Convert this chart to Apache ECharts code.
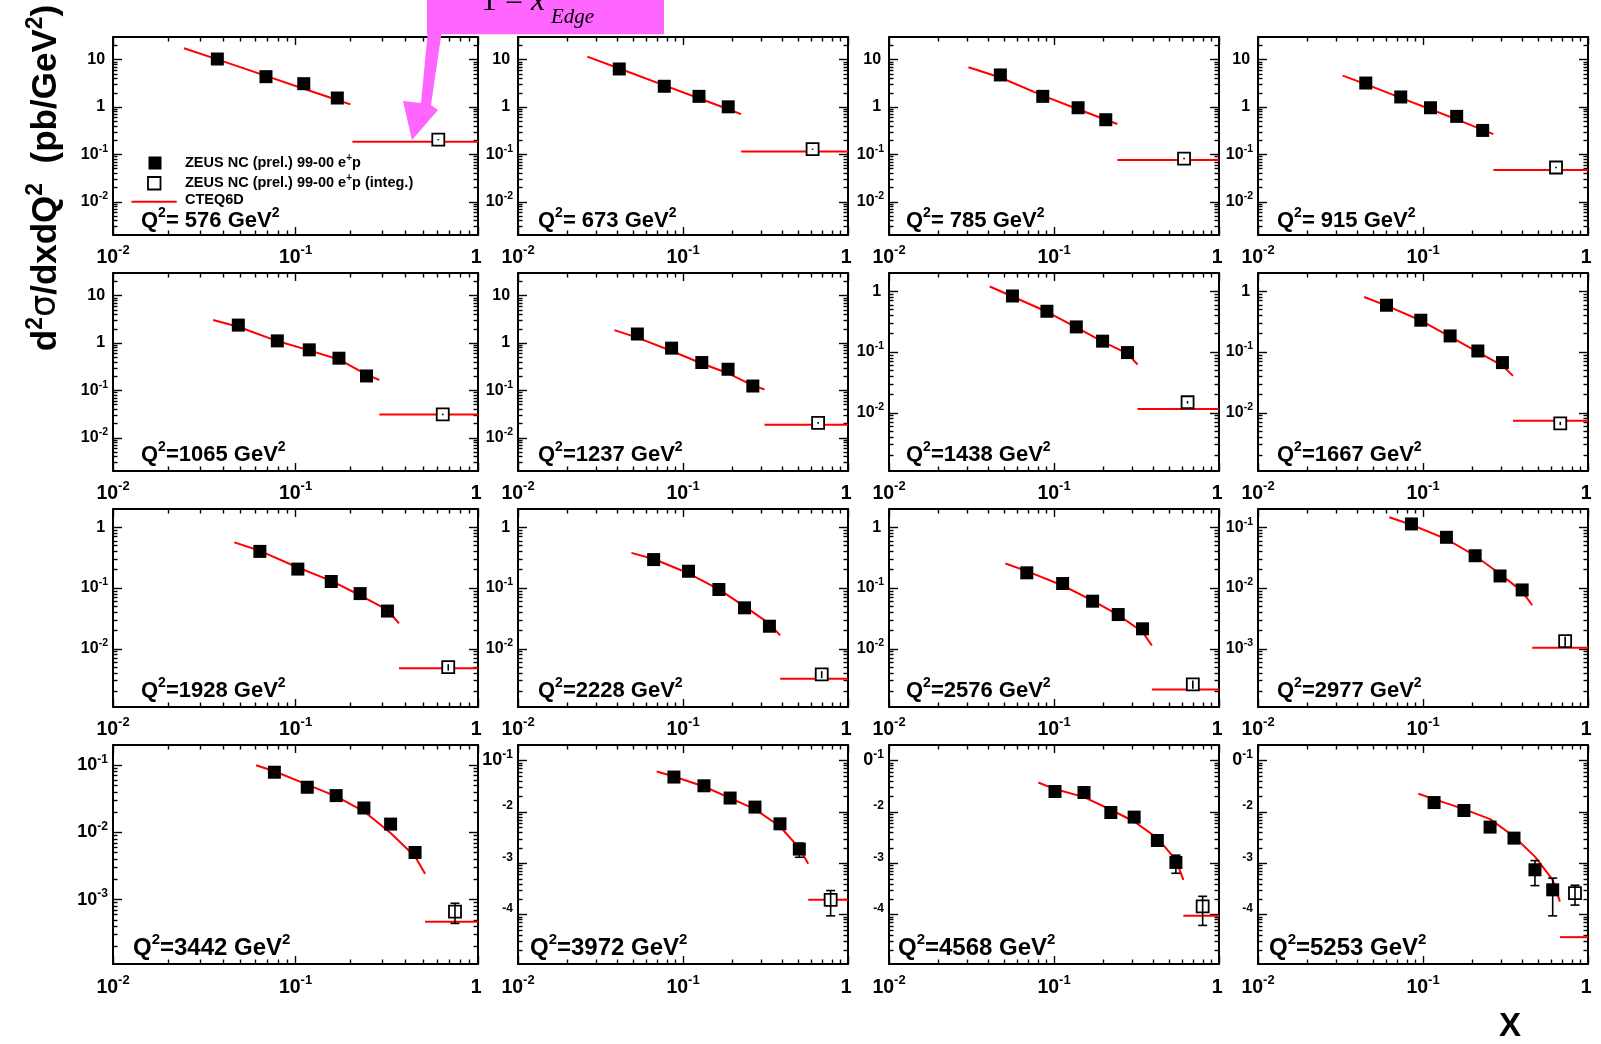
<!DOCTYPE html>
<html><head><meta charset="utf-8">
<script src="https://cdn.jsdelivr.net/npm/echarts@6/dist/echarts.min.js"></script>
<style>html,body{margin:0;padding:0;background:#fff}#c{width:1601px;height:1044px}</style>
</head><body><div id="c"></div>
<script>
// ---------------- data ----------------
const q2List = [576, 673, 785, 915, 1065, 1237, 1438, 1667, 1928, 2228, 2576, 2977, 3442, 3972, 4568, 5253];

const yMinVals = [0.002, 0.002, 0.002, 0.002, 0.002, 0.002, 0.0011, 0.0011, 0.0011, 0.0011, 0.0011, 1.1e-4, 1.1e-4, 1.1e-5, 1.1e-5, 1.1e-5];
const yMaxVals = [30, 30, 30, 30, 30, 30, 2, 2, 2, 2, 2, 0.2, 0.2, 0.2, 0.2, 0.2];

const pointX = [
  [0.0373, 0.0689, 0.111, 0.1695],
  [0.0411, 0.077, 0.125, 0.188],
  [0.0473, 0.0855, 0.140, 0.206],
  [0.045, 0.0733, 0.111, 0.16, 0.23],
  [0.0486, 0.0795, 0.119, 0.173, 0.245],
  [0.0529, 0.0853, 0.13, 0.1875, 0.265],
  [0.056, 0.0906, 0.1365, 0.197, 0.279],
  [0.0601, 0.097, 0.146, 0.215, 0.303],
  [0.0638, 0.103, 0.157, 0.226, 0.319],
  [0.0664, 0.108, 0.165, 0.236, 0.334],
  [0.0684, 0.1128, 0.1714, 0.245, 0.344],
  [0.0851, 0.1387, 0.207, 0.293, 0.399],
  [0.0766, 0.116, 0.167, 0.237, 0.332, 0.452],
  [0.0881, 0.134, 0.193, 0.273, 0.387, 0.507],
  [0.1014, 0.152, 0.221, 0.306, 0.423, 0.548],
  [0.1167, 0.177, 0.255, 0.356, 0.477, 0.611]
];
const pointY = [
  [10.3, 4.37, 3.11, 1.55],
  [6.35, 2.74, 1.68, 1.01],
  [4.75, 1.68, 0.966, 0.54],
  [3.21, 1.63, 0.966, 0.635, 0.321],
  [2.39, 1.11, 0.718, 0.479, 0.202],
  [1.55, 0.78, 0.388, 0.28, 0.124],
  [0.837, 0.469, 0.259, 0.151, 0.098],
  [0.589, 0.334, 0.184, 0.104, 0.067],
  [0.401, 0.205, 0.128, 0.081, 0.0418],
  [0.294, 0.189, 0.0945, 0.0472, 0.0235],
  [0.178, 0.1186, 0.0607, 0.0366, 0.0213],
  [0.1135, 0.0684, 0.034, 0.0158, 0.0093],
  [0.0787, 0.047, 0.0353, 0.0231, 0.0133, 0.00502],
  [0.0476, 0.0322, 0.0186, 0.0124, 0.00586, 0.00189],
  [0.0249, 0.0238, 0.00973, 0.00792, 0.00278, 0.00104],
  [0.0152, 0.01064, 0.00506, 0.00309, 0.000748, 0.000305]
];
const pointErr = [
  [0.3, 0.13, 0.09, 0.05],
  [0.19, 0.08, 0.05, 0.03],
  [0.14, 0.05, 0.03, 0.02],
  [0.1, 0.05, 0.03, 0.02, 0.012],
  [0.07, 0.03, 0.02, 0.015, 0.008],
  [0.05, 0.025, 0.013, 0.01, 0.005],
  [0.025, 0.015, 0.009, 0.006, 0.004],
  [0.02, 0.011, 0.007, 0.004, 0.003],
  [0.013, 0.007, 0.005, 0.003, 0.002],
  [0.01, 0.007, 0.004, 0.002, 0.0012],
  [0.007, 0.005, 0.003, 0.002, 0.0012],
  [0.004, 0.003, 0.0015, 0.0008, 0.0006],
  [0.003, 0.002, 0.0015, 0.0011, 0.0008, 0.0008],
  [0.002, 0.0015, 0.001, 0.0008, 0.0005, 0.00058],
  [0.0012, 0.0012, 0.0006, 0.0006, 0.0003, 0.0004],
  [0.0009, 0.0007, 0.0004, 0.00035, 0.00038, 0.00021]
];

const curveX = [
  [0.0245, 0.0373, 0.0689, 0.111, 0.1695, 0.2],
  [0.0263, 0.0411, 0.077, 0.125, 0.188, 0.225],
  [0.0303, 0.0473, 0.0855, 0.14, 0.206, 0.242],
  [0.0326, 0.045, 0.0733, 0.111, 0.16, 0.23, 0.267],
  [0.0354, 0.0486, 0.0795, 0.119, 0.173, 0.245, 0.288],
  [0.0384, 0.0529, 0.0853, 0.13, 0.1875, 0.265, 0.312],
  [0.0408, 0.056, 0.0906, 0.1365, 0.197, 0.279, 0.321],
  [0.044, 0.0601, 0.097, 0.146, 0.215, 0.303, 0.351],
  [0.0462, 0.0638, 0.103, 0.157, 0.226, 0.319, 0.369],
  [0.0487, 0.0664, 0.108, 0.165, 0.236, 0.334, 0.388],
  [0.0508, 0.0684, 0.1128, 0.1714, 0.245, 0.344, 0.392],
  [0.0625, 0.0851, 0.1387, 0.207, 0.293, 0.399, 0.459],
  [0.0608, 0.0766, 0.116, 0.167, 0.237, 0.332, 0.452, 0.513],
  [0.0693, 0.0881, 0.134, 0.193, 0.273, 0.387, 0.507, 0.574],
  [0.0803, 0.1014, 0.152, 0.221, 0.306, 0.423, 0.548, 0.608],
  [0.0937, 0.1167, 0.177, 0.255, 0.356, 0.477, 0.611, 0.676]
];
const curveY = [
  [17.4, 10.1, 4.54, 2.43, 1.41, 1.14],
  [11.6, 6.5, 2.87, 1.53, 0.9, 0.71],
  [6.9, 4.2, 1.74, 0.9, 0.54, 0.438],
  [4.59, 3.05, 1.56, 0.9, 0.55, 0.33, 0.268],
  [3.05, 2.2, 1.1, 0.7, 0.45, 0.215, 0.166],
  [1.87, 1.3, 0.68, 0.37, 0.23, 0.128, 0.105],
  [1.2, 0.82, 0.46, 0.255, 0.148, 0.094, 0.0623],
  [0.806, 0.58, 0.33, 0.18, 0.1, 0.06, 0.0405],
  [0.565, 0.41, 0.218, 0.131, 0.076, 0.0435, 0.0262],
  [0.379, 0.3, 0.175, 0.095, 0.05, 0.026, 0.0166],
  [0.253, 0.19, 0.11, 0.062, 0.036, 0.019, 0.0113],
  [0.146, 0.11, 0.064, 0.034, 0.017, 0.0088, 0.0052],
  [0.1, 0.0813, 0.0515, 0.0344, 0.0206, 0.0098, 0.00439, 0.00242],
  [0.0611, 0.0489, 0.0312, 0.0185, 0.0113, 0.0052, 0.00198, 0.00098],
  [0.0373, 0.0278, 0.0194, 0.011, 0.0065, 0.00309, 0.00117, 0.000478],
  [0.0225, 0.0177, 0.0113, 0.00724, 0.00332, 0.00135, 0.000477, 0.00018]
];

const integX = [0.606, 0.61, 0.614, 0.64, 0.641, 0.659, 0.645, 0.679, 0.687, 0.693, 0.694, 0.727, 0.748, 0.785, 0.796, 0.834];
const integY = [0.205, 0.129, 0.082, 0.053, 0.0312, 0.0208, 0.0149, 0.00667, 0.00497, 0.00378, 0.00259, 0.00134, 0.000662, 0.000195, 0.000145, 0.000264];
const integErr = [0.006, 0.004, 0.003, 0.002, 0.0012, 0.0009, 0.0007, 0.0004, 0.0006, 0.0005, 0.0004, 0.00025, 0.00022, 0.0001, 0.000083, 0.00011];
const edgeX = [0.205, 0.225, 0.242, 0.267, 0.288, 0.312, 0.321, 0.351, 0.369, 0.388, 0.392, 0.459, 0.513, 0.574, 0.608, 0.676];
const integTheory = [0.185, 0.116, 0.076, 0.047, 0.031, 0.019, 0.0115, 0.0074, 0.0048, 0.0032, 0.00214, 0.00104, 0.00047, 0.000195, 0.000095, 0.0000366];

const legendNames = ['ZEUS NC (prel.) 99-00 e+p', 'ZEUS NC (prel.) 99-00 e+p (integ.)', 'CTEQ6D'];

// ---------------- layout ----------------
const colLeft = [113, 518, 889, 1258], colWidth = [365, 330, 330, 330];
const rowTop = [37, 273, 509, 745], rowHeight = [198, 198, 198, 219];
const FONT = '"Liberation Sans", Arial, Helvetica, sans-serif';
const L10 = Math.log10;

function richSet(F, S, P) {
  return {
    b: {fontFamily: FONT, fontWeight: 'bold', fontSize: F, color: '#000'},
    t: {fontFamily: FONT, fontWeight: 'bold', fontSize: F, color: 'rgba(0,0,0,0)'},
    s: {fontFamily: FONT, fontWeight: 'bold', fontSize: S, color: '#000', padding: [0, 0, P, 0]}
  };
}
function xLabelText(v) {
  const n = Math.round(v);
  if (n === 0) return '{b|1}{s| }';
  if (n === 1) return '{b|10}{s| }';
  return '{b|10}{s|' + n + '}';
}
function yLabelText(v, mode) {
  const n = Math.round(v);
  if (n === 0) return '{b|1}{s| }';
  if (n === 1) return '{b|10}{s| }';
  if (mode === 'full' || (n === -1 && mode === 'hide10')) return '{b|10}{s|' + n + '}';
  if (n === -1 && mode === 'hide1') return '{t|1}{b|0}{s|-1}';
  return '{t|10}{s|' + n + '}';
}
function errBar(params, api) {
  const x = api.value(0), lo = api.value(1), hi = api.value(2);
  const p1 = api.coord([x, lo]), p2 = api.coord([x, hi]);
  const c = 4.5, st = {stroke: '#000', lineWidth: 1.6};
  const kids = [{type: 'line', shape: {x1: p1[0], y1: p1[1], x2: p2[0], y2: p2[1]}, style: st}];
  if (Math.abs(p1[1] - p2[1]) > 14) {
    kids.push({type: 'line', shape: {x1: p1[0] - c, y1: p1[1], x2: p1[0] + c, y2: p1[1]}, style: st});
    kids.push({type: 'line', shape: {x1: p2[0] - c, y1: p2[1], x2: p2[0] + c, y2: p2[1]}, style: st});
  }
  return {type: 'group', children: kids};
}

const grids = [], xAxes = [], yAxes = [], series = [], graphics = [];
const tickStyle = {color: '#000', width: 1.4};

for (let i = 0; i < 16; i++) {
  const r = Math.floor(i / 4), c = i % 4;
  const big = r === 3;
  grids.push({left: colLeft[c], top: rowTop[r], width: colWidth[c], height: rowHeight[r], show: false});
  const ylo = L10(yMinVals[i]), yhi = L10(yMaxVals[i]);
  const xMaj = [-2, -1, 0], xMinor = [];
  for (let n = -2; n < 0; n++) for (let k = 2; k <= 9; k++) xMinor.push(n + L10(k));
  const yMaj = [], yMinor = [];
  for (let n = Math.floor(ylo); n <= Math.ceil(yhi); n++) {
    if (n >= ylo - 1e-9 && n <= yhi + 1e-9) yMaj.push(n);
    for (let k = 2; k <= 9; k++) { const v = n + L10(k); if (v > ylo && v < yhi) yMinor.push(v); }
  }
  const xi = xAxes.length, yi = yAxes.length;
  const xF = 19.5, xS = 13;
  const yF = big ? 18 : 16, yS = big ? 12 : 10.5;
  const mode = i === 13 ? 'hide10' : (i >= 14 ? 'hide1' : 'full');
  const mk = (pos, withLine, ticks, len, label) => ({
    type: 'value', gridIndex: i, min: -2, max: 0, position: pos, silent: true,
    axisLine: {show: withLine, onZero: false, lineStyle: {color: '#000', width: 2}},
    axisTick: {show: true, inside: true, length: len, customValues: ticks, lineStyle: tickStyle},
    axisLabel: label || {show: false},
    splitLine: {show: false}, axisPointer: {show: false}
  });
  xAxes.push(mk('bottom', true, xMaj, 8, {show: true, customValues: xMaj, formatter: xLabelText, margin: big ? 10 : 9, rich: richSet(xF, xS, 14)}));
  xAxes.push(mk('bottom', false, xMinor, 4.5));
  xAxes.push(mk('top', true, xMaj, 8));
  xAxes.push(mk('top', false, xMinor, 4.5));
  const mky = (pos, withLine, ticks, len, label) => ({
    type: 'value', gridIndex: i, min: ylo, max: yhi, position: pos, silent: true,
    axisLine: {show: withLine, onZero: false, lineStyle: {color: '#000', width: 2}},
    axisTick: {show: true, inside: true, length: len, customValues: ticks, lineStyle: tickStyle},
    axisLabel: label || {show: false},
    splitLine: {show: false}, axisPointer: {show: false}
  });
  yAxes.push(mky('left', true, yMaj, 9, {show: true, customValues: yMaj, formatter: v => yLabelText(v, mode), margin: 5, rich: richSet(yF, yS, big ? 12 : 11)}));
  yAxes.push(mky('left', false, yMinor, 4.5));
  yAxes.push(mky('right', true, yMaj, 9));
  yAxes.push(mky('right', false, yMinor, 4.5));

  const ax = {xAxisIndex: xi, yAxisIndex: yi};
  series.push(Object.assign({
    type: 'line', name: legendNames[2], data: curveX[i].map((x, j) => [L10(x), L10(curveY[i][j])]),
    symbol: 'none', showSymbol: false, lineStyle: {color: '#ff0000', width: 2}, z: 2, silent: true
  }, ax));
  series.push(Object.assign({
    type: 'line', name: legendNames[2], data: [[L10(edgeX[i]), L10(integTheory[i])], [0, L10(integTheory[i])]],
    symbol: 'none', showSymbol: false, lineStyle: {color: '#ff0000', width: 2}, z: 2, silent: true
  }, ax));
  series.push(Object.assign({
    type: 'custom', renderItem: errBar, encode: {x: 0, y: [1, 2]}, z: 3, silent: true,
    data: pointX[i].map((x, j) => [L10(x), L10(pointY[i][j] - pointErr[i][j]), L10(pointY[i][j] + pointErr[i][j])])
  }, ax));
  series.push(Object.assign({
    type: 'scatter', name: legendNames[0], symbol: 'rect', symbolSize: 13, itemStyle: {color: '#000', opacity: 1}, z: 4, silent: true,
    data: pointX[i].map((x, j) => [L10(x), L10(pointY[i][j])])
  }, ax));
  series.push(Object.assign({
    type: 'scatter', name: legendNames[1], symbol: 'rect', symbolSize: 12, z: 4, silent: true,
    itemStyle: {color: '#fff', borderColor: '#000', borderWidth: 1.8, opacity: 1},
    data: [[L10(integX[i]), L10(integY[i])]]
  }, ax));
  series.push(Object.assign({
    type: 'custom', renderItem: errBar, encode: {x: 0, y: [1, 2]}, z: 5, silent: true,
    data: [[L10(integX[i]), L10(integY[i] - integErr[i]), L10(integY[i] + integErr[i])]]
  }, ax));

  // Q^2 label
  const qF = big ? 24 : 22, qS = big ? 15 : 14;
  const qOff = [28, 20, 17, 19][c] - (big ? 8 : 0);
  const qCenterY = [221, 455, 691, 948][r];
  const num = q2List[i] < 1000 ? ' ' + q2List[i] : '' + q2List[i];
  graphics.push({
    type: 'text', x: colLeft[c] + qOff, y: qCenterY, z: 50, silent: true,
    style: {
      text: '{b|Q}{s|2}{b|=' + num + ' GeV}{s|2}', align: 'left', verticalAlign: 'middle',
      rich: {
        b: {fontFamily: FONT, fontWeight: 'bold', fontSize: qF, color: '#000'},
        s: {fontFamily: FONT, fontWeight: 'bold', fontSize: qS, color: '#000', padding: [0, 0, Math.round(qF * 0.7), 0]}
      }
    }
  });
}

// legend (panel 1)
const lgRich = {
  a: {fontFamily: FONT, fontWeight: 'bold', fontSize: 14.5, color: '#000'},
  s: {fontFamily: FONT, fontWeight: 'bold', fontSize: 10, color: '#000', padding: [0, 0, 9, 0]}
};
function lgText(name) {
  const k = name.indexOf('e+p');
  if (k < 0) return '{a|' + name + '}';
  return '{a|' + name.slice(0, k + 1) + '}{s|+}{a|' + name.slice(k + 2) + '}';
}
graphics.push({type: 'rect', shape: {x: 148.5, y: 156.5, width: 13, height: 13}, style: {fill: '#000'}, z: 50});
graphics.push({type: 'rect', shape: {x: 148, y: 177, width: 12.5, height: 12.5}, style: {fill: '#fff', stroke: '#000', lineWidth: 1.8}, z: 50});
graphics.push({type: 'line', shape: {x1: 131.5, y1: 201.7, x2: 176.7, y2: 201.7}, style: {stroke: '#ff0000', lineWidth: 2}, z: 50});
[163, 183, 199.5].forEach((yy, k) => graphics.push({
  type: 'text', x: 185, y: yy, z: 50, silent: true,
  style: {text: lgText(legendNames[k]), rich: lgRich, align: 'left', verticalAlign: 'middle'}
}));

// axis titles
graphics.push({
  type: 'text', x: 46, y: 178, rotation: Math.PI / 2, z: 50, silent: true,
  style: {
    text: '{a|d}{s|2}{g|σ}{a|/dxdQ}{s|2}{a|  (pb/GeV}{s|2}{a|)}', align: 'center', verticalAlign: 'middle',
    rich: {
      a: {fontFamily: FONT, fontWeight: 'bold', fontSize: 35, color: '#000'},
      g: {fontFamily: '"DejaVu Sans", sans-serif', fontWeight: 'normal', fontSize: 35, color: '#000'},
      s: {fontFamily: FONT, fontWeight: 'bold', fontSize: 23, color: '#000', padding: [0, 0, 21, 0]}
    }
  }
});
graphics.push({
  type: 'text', x: 1510, y: 1027, z: 50, silent: true,
  style: {text: 'X', fontFamily: FONT, fontWeight: 'bold', fontSize: 33, fill: '#000', align: 'center', verticalAlign: 'middle'}
});

// pink annotation box and arrow
graphics.push({type: 'rect', shape: {x: 427, y: -5, width: 237, height: 39.3}, style: {fill: '#ff66ff'}, z: 60});
graphics.push({
  type: 'polygon', z: 60,
  shape: {points: [[428, 30], [442, 30], [431, 105], [438, 110], [412, 140], [403, 101], [421, 103]]},
  style: {fill: '#ff66ff'}
});
graphics.push({
  type: 'text', x: 481, y: 1.5, z: 61, silent: true,
  style: {
    text: '{n|1 = }{i|x}', align: 'left', verticalAlign: 'middle',
    rich: {
      n: {fontFamily: '"Liberation Serif", "Times New Roman", serif', fontSize: 32, color: '#000'},
      i: {fontFamily: '"Liberation Serif", "Times New Roman", serif', fontStyle: 'italic', fontSize: 32, color: '#000'}
    }
  }
});
graphics.push({
  type: 'text', x: 551, y: 17, z: 61, silent: true,
  style: {text: 'Edge', fontFamily: '"Liberation Serif", "Times New Roman", serif', fontStyle: 'italic', fontSize: 21, fill: '#000', align: 'left', verticalAlign: 'middle'}
});

const chart = echarts.init(document.getElementById('c'), null, {renderer: 'canvas'});
chart.setOption({
  animation: false,
  backgroundColor: '#fff',
  grid: grids, xAxis: xAxes, yAxis: yAxes, series: series,
  graphic: {elements: graphics}
});
</script>
</body></html>
